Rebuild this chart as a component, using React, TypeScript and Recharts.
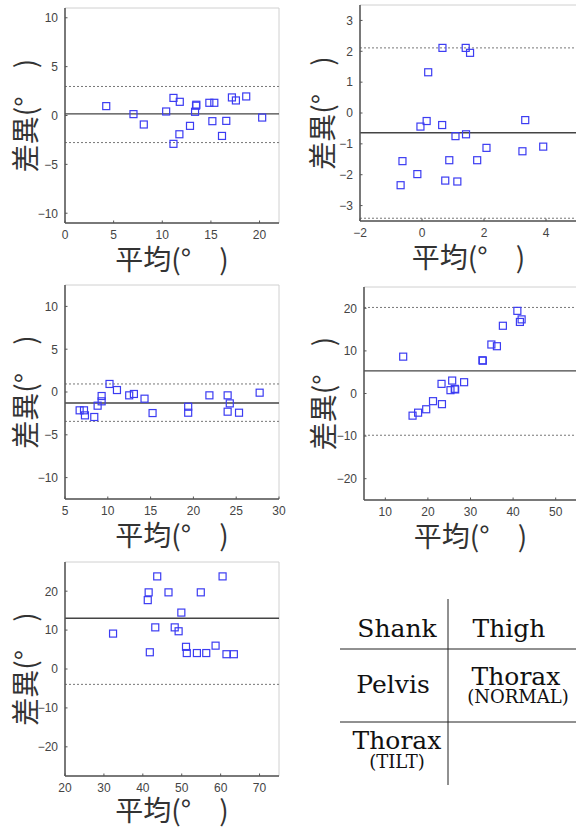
import { ReferenceArea, ReferenceLine, Scatter, ScatterChart, XAxis, YAxis } from "recharts";

// Bland-Altman: mean of the two methods (x) vs. difference (y), degrees
const shankAvg = [4.24, 7.04, 8.1, 10.4, 11.15, 11.8, 11.15, 11.76, 12.85, 13.37, 13.47, 13.5, 14.84, 15.35, 15.15, 16.14, 16.58, 17.16, 17.57, 18.63, 20.27];
const shankDiff = [0.96, 0.14, -0.92, 0.41, 1.8, 1.4, -2.9, -1.92, -1.06, 0.38, 1.0, 1.1, 1.3, 1.3, -0.58, -2.09, -0.55, 1.85, 1.54, 1.95, -0.21];
const shankLines = [0.17, 2.97, -2.77]; // mean, upper, lower

const thighAvg = [0.66, 1.41, 1.55, 0.2, -0.05, 0.15, 0.65, 1.08, 1.42, 3.33, 2.08, 3.24, 3.91, -0.63, 0.88, 1.78, -0.15, -0.69, 0.75, 1.14];
const thighDiff = [2.11, 2.11, 1.95, 1.32, -0.44, -0.26, -0.39, -0.75, -0.69, -0.23, -1.13, -1.24, -1.09, -1.56, -1.53, -1.53, -1.98, -2.34, -2.19, -2.22];
const thighLines = [-0.64, 2.11, -3.41];

const pelvisAvg = [6.71, 7.22, 7.33, 8.42, 8.81, 9.28, 9.28, 10.2, 11.07, 12.5, 13.05, 14.29, 15.23, 19.39, 19.39, 21.87, 24.0, 24.25, 24.0, 25.33, 27.74];
const pelvisDiff = [-2.14, -2.14, -2.73, -2.92, -1.6, -0.47, -1.09, 0.94, 0.23, -0.39, -0.23, -0.78, -2.46, -1.72, -2.42, -0.39, -0.39, -1.33, -2.3, -2.42, -0.08];
const pelvisLines = [-1.29, 0.94, -3.43];

const normalAvg = [14.2, 16.4, 17.7, 19.6, 21.2, 23.3, 23.2, 25.7, 25.3, 26.3, 26.4, 28.5, 32.8, 32.9, 34.9, 36.2, 37.6, 41.0, 42.0, 41.6];
const normalDiff = [8.65, -5.2, -4.5, -3.7, -1.8, -2.5, 2.26, 3.04, 0.78, 1.09, 0.95, 2.65, 7.8, 7.7, 11.5, 11.1, 15.9, 19.4, 17.4, 16.8];
const normalLines = [5.3, 20.2, -9.8];

const tiltAvg = [32.35, 41.27, 41.5, 41.8, 43.2, 43.7, 46.6, 48.2, 49.2, 49.9, 51.1, 51.3, 53.9, 54.9, 56.3, 58.7, 60.5, 61.5, 63.4];
const tiltDiff = [9.1, 17.7, 19.7, 4.3, 10.7, 23.8, 19.7, 10.7, 9.7, 14.5, 5.7, 4.1, 4.1, 19.7, 4.1, 6.0, 23.8, 3.8, 3.8];
const tiltLines = [13.05, null, -3.95];

const xLabel = "平均(°　)";
const yLabel = "差異(°　)";

const BLUE = "#3c3cf2";
const AXIS_COLOR = "#555";
const TICK_FONT = "'Liberation Sans', Arial, sans-serif";
const LABEL_STYLE = { fill: "#333", fontSize: 28, fontFamily: "'Noto Sans CJK JP', sans-serif", textAnchor: "middle" as const };
const TABLE_FONT = "'DejaVu Serif', serif";
const GAP = 7; // axis line to tick label

const fmt = (v: number) => String(v).replace("-", "\u2212");
const zip = (xs: number[], ys: number[]) => xs.map((x, i) => ({ x, y: ys[i] }));

function Square(props: any) {
  const { cx, cy } = props;
  return <rect x={cx - 3.5} y={cy - 3.5} width={7} height={7} fill="none" stroke={BLUE} strokeWidth={1.2} />;
}

// tick labels with short inward tick marks
function XTick({ x, y, payload }: any) {
  return (
    <g>
      <line x1={x} x2={x} y1={y - GAP} y2={y - GAP - 2.5} stroke={AXIS_COLOR} strokeWidth={1} />
      <text x={x} y={y} dy="0.71em" textAnchor="middle" fontSize={12} fontFamily={TICK_FONT} fill="#444">
        {fmt(payload.value)}
      </text>
    </g>
  );
}

function YTick({ x, y, payload }: any) {
  return (
    <g>
      <line x1={x + GAP} x2={x + GAP + 2.5} y1={y} y2={y} stroke={AXIS_COLOR} strokeWidth={1} />
      <text x={x} y={y} dy="0.36em" textAnchor="end" fontSize={12} fontFamily={TICK_FONT} fill="#444">
        {fmt(payload.value)}
      </text>
    </g>
  );
}

function Panel({ avg, diff, lines, left, top, width, height, margin, xDomain, xTicks, yDomain, yTicks, yLabelOffset, xLabelOffset = 7 }: any) {
  const [mean, upper, lower] = lines;
  return (
    <div style={{ position: "absolute", left, top }}>
      <ScatterChart width={width} height={height} margin={margin}>
        <ReferenceArea x1={xDomain[0]} x2={xDomain[1]} y1={yDomain[0]} y2={yDomain[1]} fill="none" stroke="#d0d0d0" strokeWidth={1} />
        <XAxis
          type="number"
          dataKey="x"
          domain={xDomain}
          ticks={xTicks}
          allowDataOverflow
          height={20}
          stroke={AXIS_COLOR}
          strokeWidth={1.5}
          tickLine={false}
          tickSize={0}
          tickMargin={GAP}
          tick={XTick}
          label={{ value: xLabel, position: "bottom", offset: xLabelOffset, style: LABEL_STYLE }}
        />
        <YAxis
          type="number"
          dataKey="y"
          domain={yDomain}
          ticks={yTicks}
          allowDataOverflow
          width={30}
          stroke={AXIS_COLOR}
          strokeWidth={1.5}
          tickLine={false}
          tickSize={0}
          tickMargin={GAP}
          tick={YTick}
          label={{ value: yLabel, angle: -90, position: "insideLeft", offset: yLabelOffset, style: LABEL_STYLE }}
        />
        {upper != null && <ReferenceLine y={upper} stroke="#777" strokeWidth={1} strokeDasharray="2 2" />}
        {lower != null && <ReferenceLine y={lower} stroke="#777" strokeWidth={1} strokeDasharray="2 2" />}
        <ReferenceLine y={mean} stroke="#444" strokeWidth={1.4} />
        <Scatter data={zip(avg, diff)} shape={Square} isAnimationActive={false} />
      </ScatterChart>
    </div>
  );
}

function TableText({ x, y, size, children }: any) {
  return (
    <text x={x} y={y} textAnchor="middle" fontSize={size} fontFamily={TABLE_FONT} fill="#111">
      {children}
    </text>
  );
}

export default function App() {
  return (
    <div style={{ position: "absolute", left: 0, top: 0, width: 576, height: 829, overflow: "hidden", background: "#fff" }}>
      <Panel
        avg={shankAvg} diff={shankDiff} lines={shankLines}
        left={0} top={0} width={290} height={285}
        margin={{ top: 8, right: 11, bottom: 42, left: 35 }}
        xDomain={[0, 22]} xTicks={[0, 5, 10, 15, 20]}
        yDomain={[-11, 11]} yTicks={[-10, -5, 0, 5, 10]}
        yLabelOffset={-9}
      />
      <Panel
        avg={thighAvg} diff={thighDiff} lines={thighLines}
        left={290} top={0} width={300} height={285}
        margin={{ top: 5, right: 13, bottom: 44, left: 40 }}
        xDomain={[-2, 5]} xTicks={[-2, 0, 2, 4]}
        yDomain={[-3.5, 3.5]} yTicks={[-3, -2, -1, 0, 1, 2, 3]}
        yLabelOffset={-7}
      />
      <Panel
        avg={pelvisAvg} diff={pelvisDiff} lines={pelvisLines}
        left={0} top={280} width={290} height={285}
        margin={{ top: 5, right: 11, bottom: 46, left: 35 }}
        xDomain={[5, 30]} xTicks={[5, 10, 15, 20, 25, 30]}
        yDomain={[-12.5, 12.5]} yTicks={[-10, -5, 0, 5, 10]}
        yLabelOffset={-9}
      />
      <Panel
        avg={normalAvg} diff={normalDiff} lines={normalLines}
        left={290} top={280} width={300} height={285}
        margin={{ top: 7, right: 13, bottom: 45, left: 44 }}
        xDomain={[5, 55]} xTicks={[10, 20, 30, 40, 50]}
        yDomain={[-25, 25]} yTicks={[-20, -10, 0, 10, 20]}
        yLabelOffset={-10}
      />
      <Panel
        avg={tiltAvg} diff={tiltDiff} lines={tiltLines}
        left={0} top={555} width={290} height={274}
        margin={{ top: 7, right: 11, bottom: 33, left: 35 }}
        xDomain={[20, 75]} xTicks={[20, 30, 40, 50, 60, 70]}
        yDomain={[-27.5, 27.5]} yTicks={[-20, -10, 0, 10, 20]}
        yLabelOffset={-9}
        xLabelOffset={5}
      />
      <svg width={576} height={829} style={{ position: "absolute", left: 0, top: 0, pointerEvents: "none" }}>
        <line x1={448} y1={599} x2={448} y2={785} stroke="#222" strokeWidth={1} />
        <line x1={340} y1={649} x2={576} y2={649} stroke="#222" strokeWidth={1} />
        <line x1={340} y1={722} x2={576} y2={722} stroke="#222" strokeWidth={1} />
        <TableText x={397} y={637} size={25}>Shank</TableText>
        <TableText x={509} y={637} size={25}>Thigh</TableText>
        <TableText x={393} y={693} size={25}>Pelvis</TableText>
        <TableText x={516} y={685} size={25}>Thorax</TableText>
        <TableText x={518} y={703} size={18}>(NORMAL)</TableText>
        <TableText x={397} y={749} size={25}>Thorax</TableText>
        <TableText x={397} y={768} size={18}>(TILT)</TableText>
      </svg>
    </div>
  );
}
